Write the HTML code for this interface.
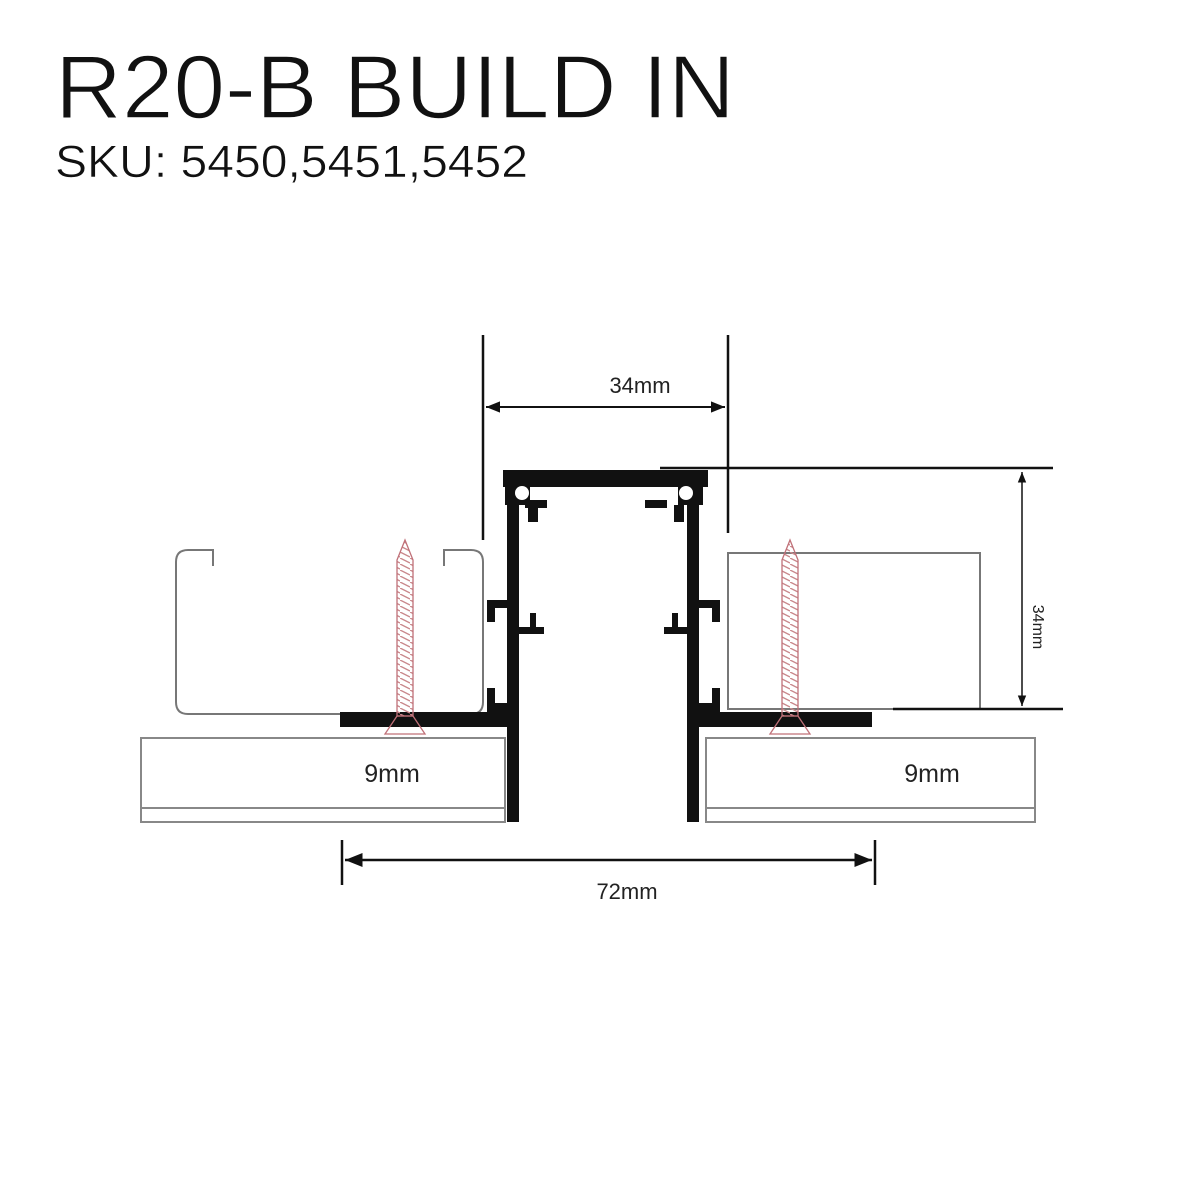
<!DOCTYPE html>
<html><head><style>
html,body{margin:0;padding:0;background:#fff;}
svg{display:block;}
</style></head><body>
<svg width="1200" height="1200" viewBox="0 0 1200 1200" xmlns="http://www.w3.org/2000/svg">
<defs>
<marker id="ar" viewBox="0 0 10 10" refX="10" refY="5" markerWidth="7" markerHeight="7" orient="auto-start-reverse"><path d="M0,1 L10,5 L0,9 z" fill="#111"/></marker>
<pattern id="thr" width="10" height="6" patternUnits="userSpaceOnUse"><line x1="0" y1="0" x2="10" y2="5" stroke="#c9888c" stroke-width="1.4"/></pattern>
</defs>
<text x="55" y="118" font-family="Liberation Sans, sans-serif" font-size="90" fill="#111" stroke="#fff" stroke-width="1.5" paint-order="normal" textLength="680" lengthAdjust="spacingAndGlyphs">R20-B BUILD IN</text>
<text x="55" y="177" font-family="Liberation Sans, sans-serif" font-size="45" fill="#111" stroke="#fff" stroke-width="0.6" textLength="473" lengthAdjust="spacingAndGlyphs">SKU: 5450,5451,5452</text>

<g fill="none" stroke="#888" stroke-width="2">
<rect x="141" y="738" width="364" height="84"/><line x1="141" y1="808" x2="505" y2="808"/>
<rect x="706" y="738" width="329" height="84"/><line x1="706" y1="808" x2="1035" y2="808"/>
<path d="M213,566 V550 H188 Q176,550 176,562 V702 Q176,714 188,714 H471 Q483,714 483,702 V562 Q483,550 471,550 H444 V566" stroke="#777"/>
<rect x="728" y="553" width="252" height="156" stroke="#777"/>
</g>
<rect x="340" y="712" width="175" height="15" fill="#111"/>
<rect x="696" y="712" width="176" height="15" fill="#111"/>

<g fill="#111">
<rect x="503" y="470" width="205" height="17"/>
<rect x="507" y="500" width="12" height="322"/>
<rect x="687" y="500" width="12" height="322"/>
<rect x="505" y="485" width="25" height="20"/>
<rect x="678" y="485" width="25" height="20"/>
<rect x="525" y="500" width="22" height="8"/><rect x="528" y="505" width="10" height="17"/>
<rect x="645" y="500" width="22" height="8"/><rect x="674" y="505" width="10" height="17"/>
<rect x="487" y="600" width="20" height="8"/><rect x="487" y="600" width="8" height="22"/>
<rect x="518" y="627" width="26" height="7"/><rect x="530" y="613" width="6" height="18"/>
<rect x="699" y="600" width="20" height="8"/><rect x="712" y="600" width="8" height="22"/>
<rect x="664" y="627" width="26" height="7"/><rect x="672" y="613" width="6" height="18"/>
<rect x="487" y="688" width="8" height="28"/><rect x="712" y="688" width="8" height="28"/>
<rect x="495" y="703" width="14" height="12"/><rect x="699" y="703" width="14" height="12"/>
</g>
<circle cx="522" cy="493" r="7" fill="#fff"/>
<circle cx="686" cy="493" r="7" fill="#fff"/>

<g>
<path d="M405,540 L413,560 L413,716 L397,716 L397,560 Z" fill="url(#thr)" stroke="#c07078" stroke-width="1.3"/>
<path d="M385,734 L425,734 L413,716 L397,716 Z" fill="none" stroke="#c07078" stroke-width="1.3"/>
<path d="M790,540 L798,560 L798,716 L782,716 L782,560 Z" fill="url(#thr)" stroke="#c07078" stroke-width="1.3"/>
<path d="M770,734 L810,734 L798,716 L782,716 Z" fill="none" stroke="#c07078" stroke-width="1.3"/>
</g>

<g stroke="#111" stroke-width="2.5" fill="none">
<line x1="483" y1="335" x2="483" y2="540"/>
<line x1="728" y1="335" x2="728" y2="533"/>
<line x1="486" y1="407" x2="725" y2="407" marker-start="url(#ar)" marker-end="url(#ar)" stroke-width="2"/>
<line x1="660" y1="468" x2="1053" y2="468"/>
<line x1="893" y1="709" x2="1063" y2="709"/>
<line x1="1022" y1="472" x2="1022" y2="706" marker-start="url(#ar)" marker-end="url(#ar)" stroke-width="1.5"/>
<line x1="342" y1="840" x2="342" y2="885"/>
<line x1="875" y1="840" x2="875" y2="885"/>
<line x1="345" y1="860" x2="872" y2="860" marker-start="url(#ar)" marker-end="url(#ar)"/>
</g>
<g font-family="Liberation Sans, sans-serif" fill="#222">
<text x="640" y="393" font-size="22" text-anchor="middle">34mm</text>
<text x="627" y="899" font-size="22" text-anchor="middle">72mm</text>
<text x="392" y="782" font-size="25" text-anchor="middle">9mm</text>
<text x="932" y="782" font-size="25" text-anchor="middle">9mm</text>
<text transform="translate(1033,627) rotate(90)" font-size="16" text-anchor="middle">34mm</text>
</g>
</svg>
</body></html>
